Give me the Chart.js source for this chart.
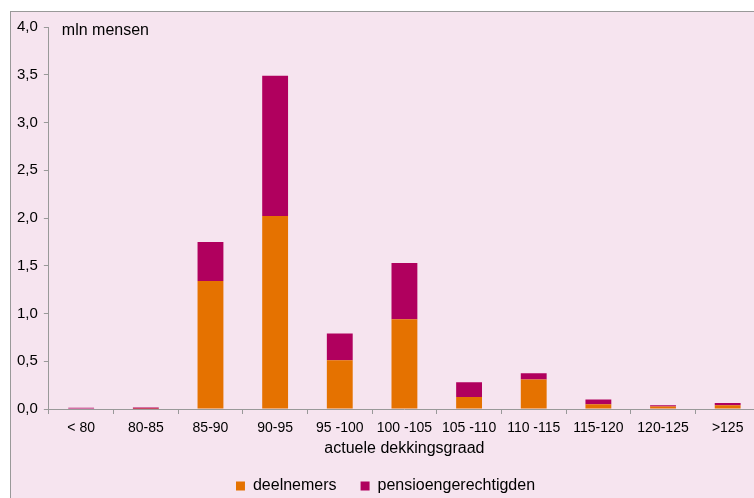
<!DOCTYPE html>
<html lang="nl">
<head>
<meta charset="utf-8">
<title>Dekkingsgraad</title>
<script src="https://cdn.jsdelivr.net/npm/chart.js@4.4.1/dist/chart.umd.min.js"></script>
<style>
    html, body { margin: 0; padding: 0; width: 754px; height: 498px; overflow: hidden; background: #fff; }
    #frame { position: absolute; left: 10px; top: 11px; width: 800px; height: 600px; background: #f6e4ef; border-left: 1px solid #999; border-top: 1px solid #999; }
    #wrap { position: absolute; left: 0; top: 0; width: 770px; height: 508px; }
</style>
</head>
<body>
<div id="frame"></div>
<div id="wrap"><canvas id="barChart" width="770" height="508"></canvas></div>
<script>
// categories on the x axis (actuele dekkingsgraad)
const categories = ['< 80', '80-85', '85-90', '90-95', '95 -100', '100 -105', '105 -110', '110 -115', '115-120', '120-125', '>125'];
// mln mensen
const deelnemers = [0.005, 0.003, 1.34, 2.02, 0.51, 0.94, 0.125, 0.31, 0.05, 0.025, 0.04];
const pensioengerechtigden = [0.007, 0.012, 0.41, 1.47, 0.28, 0.59, 0.155, 0.065, 0.05, 0.015, 0.023];
const yTicks = [0, 0.5, 1, 1.5, 2, 2.5, 3, 3.5, 4];

document.addEventListener('DOMContentLoaded', () => {
    const font = 'Liberation Sans, Arial, sans-serif';

    // "mln mensen" label in the top-left of the plot
    const unitLabel = {
        id: 'unitLabel',
        afterDraw(chart) {
            const ctx = chart.ctx;
            ctx.save();
            ctx.font = '16px ' + font;
            ctx.fillStyle = '#000';
            ctx.textBaseline = 'middle';
            ctx.fillText('mln mensen', chart.chartArea.left + 13, chart.chartArea.top + 4);
            ctx.restore();
        }
    };

    const ctxBar = document.getElementById('barChart').getContext('2d');
    new Chart(ctxBar, {
        type: 'bar',
        data: {
            labels: categories,
            datasets: [{
                label: 'deelnemers',
                data: deelnemers,
                backgroundColor: '#e57200',
                barPercentage: 0.4,
                categoryPercentage: 1
            }, {
                label: 'pensioengerechtigden',
                data: pensioengerechtigden,
                backgroundColor: '#b0005e',
                barPercentage: 0.4,
                categoryPercentage: 1
            }]
        },
        options: {
            responsive: false,
            animation: false,
            layout: { padding: { top: 27, left: 11, right: 10, bottom: 4 } },
            plugins: {
                tooltip: { enabled: false },
                legend: {
                    position: 'bottom',
                    labels: {
                        color: '#000',
                        font: { family: font, size: 16 },
                        boxWidth: 9,
                        boxHeight: 9,
                        padding: 24
                    }
                }
            },
            scales: {
                x: {
                    stacked: true,
                    grid: { drawOnChartArea: false, tickLength: 5, color: '#999' },
                    border: { color: '#999', width: 1 },
                    ticks: { color: '#000', font: { family: font, size: 14 }, padding: 6, maxRotation: 0 },
                    title: {
                        display: true,
                        text: 'actuele dekkingsgraad',
                        color: '#000',
                        font: { family: font, size: 16 },
                        padding: { top: -4, bottom: -4 }
                    }
                },
                y: {
                    stacked: true,
                    min: 0,
                    max: 4,
                    afterBuildTicks: (scale) => { scale.ticks = yTicks.map(v => ({ value: v })); },
                    grid: { drawOnChartArea: false, tickLength: 5, color: '#999' },
                    border: { color: '#999', width: 1 },
                    ticks: {
                        color: '#000',
                        font: { family: font, size: 15 },
                        padding: 6,
                        callback: (v) => Number(v).toFixed(1).replace('.', ',')
                    }
                }
            }
        },
        plugins: [unitLabel]
    });
});
</script>
</body>
</html>
